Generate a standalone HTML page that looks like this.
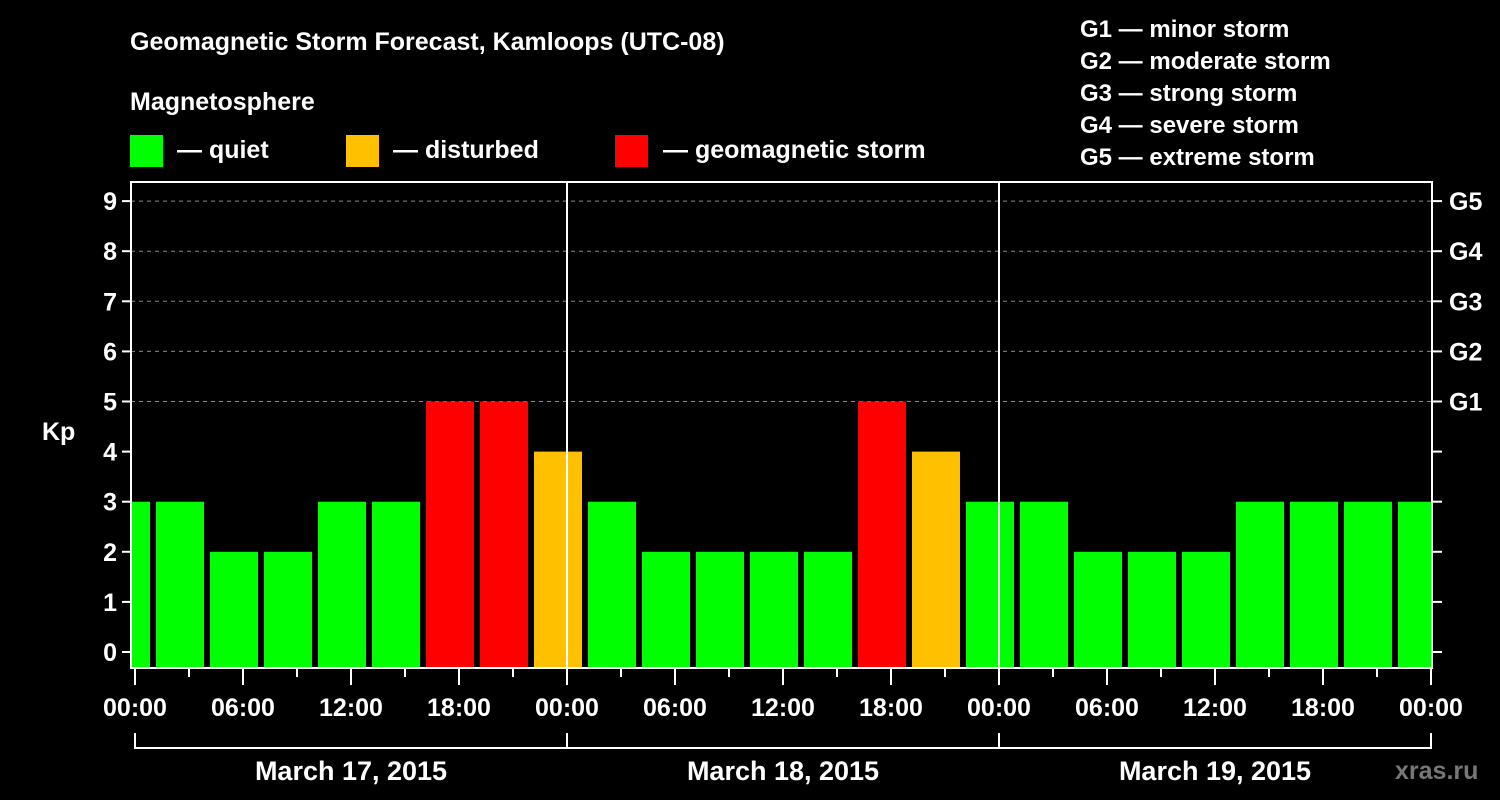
<!DOCTYPE html>
<html><head><meta charset="utf-8"><style>
html,body{margin:0;padding:0;background:#000;}
svg{display:block;font-family:"Liberation Sans",sans-serif;font-weight:bold;}
</style></head><body>
<svg id="chart" width="1500" height="800" viewBox="0 0 1500 800" xmlns="http://www.w3.org/2000/svg">
<rect width="1500" height="800" fill="#000"/>
<text x="130" y="50" fill="#fff" font-size="25">Geomagnetic Storm Forecast, Kamloops (UTC-08)</text>
<text x="130" y="110" fill="#fff" font-size="25">Magnetosphere</text>
<g><rect x="130" y="135" width="33" height="32" fill="#00ff00"/><text x="177" y="158" fill="#fff" font-size="25">— quiet</text></g>
<g><rect x="346" y="135" width="33" height="32" fill="#ffc000"/><text x="393" y="158" fill="#fff" font-size="25">— disturbed</text></g>
<g><rect x="615" y="135" width="33" height="32" fill="#ff0000"/><text x="663" y="158" fill="#fff" font-size="25">— geomagnetic storm</text></g>
<g fill="#fff" font-size="24">
<text x="1080" y="37">G1 — minor storm</text>
<text x="1080" y="69">G2 — moderate storm</text>
<text x="1080" y="101">G3 — strong storm</text>
<text x="1080" y="133">G4 — severe storm</text>
<text x="1080" y="165">G5 — extreme storm</text>
</g>
<text x="42" y="440" fill="#fff" font-size="25">Kp</text>
<g id="grid"></g>
<g id="bars"></g>
<g id="axes"></g>
<text x="1395" y="779" fill="#777" font-size="25">xras.ru</text>
</svg>
<script>
const kpValues = [3, 3,2,2,3,3,5,5,4, 3,2,2,2,2,5,4,3, 3,2,2,2,3,3,3,3];
const dayLabels = ["March 17, 2015","March 18, 2015","March 19, 2015"];
const timeLabels = ["00:00","06:00","12:00","18:00"];
const stormLabels = ["G1","G2","G3","G4","G5"];
const yTicks = [0,1,2,3,4,5,6,7,8,9];
const firstBlockHour = -2; // local hour of first 3h block start

const NS="http://www.w3.org/2000/svg";
const X0=135, PXH=18, L=131, R=1432, T=182, B=668;
const xh = h => X0 + h*PXH;
const yk = k => 652 - k*50.1;
function mk(tag, attrs, parent){const e=document.createElementNS(NS,tag);for(const k in attrs)e.setAttribute(k,attrs[k]);parent.appendChild(e);return e;}
const grid=document.getElementById('grid'), bars=document.getElementById('bars'), axes=document.getElementById('axes');

// dashed grid for G levels
stormLabels.forEach((g,i)=>{
  const y=yk(5+i);
  const ln=mk('line',{x1:L,x2:R,y1:y,y2:y,stroke:'#888','stroke-dasharray':'4,4','stroke-width':1},grid);
  
  
  const t=mk('text',{x:1449,y:y+9,fill:'#fff','font-size':25},axes);
  t.textContent=g;
  
  
});

// bars
kpValues.forEach((v,i)=>{
  const start=firstBlockHour+i*3;
  let x1=Math.max(xh(start)+3,L+1), x2=Math.min(xh(start+3)-3,R-1);
  const color=v>=5?'#ff0000':(v>=4?'#ffc000':'#00ff00');
  const r=mk('rect',{x:x1,y:yk(v),width:x2-x1,height:B-yk(v),fill:color},bars);
  
  
});

// day separators
for(let d=1;d<dayLabels.length;d++){
  const x=xh(d*24);
  const ln=mk('line',{x1:x,x2:x,y1:T,y2:B,stroke:'#fff','stroke-width':2},axes);
  
  
}
// frame
const fr=mk('rect',{x:L,y:T,width:R-L,height:B-T,fill:'none',stroke:'#fff','stroke-width':2},axes);



// y ticks
yTicks.forEach(k=>{
  const y=yk(k);
  const a=mk('line',{x1:122,x2:L,y1:y,y2:y,stroke:'#fff','stroke-width':2},axes);
  
  
  const b=mk('line',{x1:R,x2:1442,y1:y,y2:y,stroke:'#fff','stroke-width':2},axes);
  
  
  const t=mk('text',{x:117,y:y+9,fill:'#fff','font-size':25,'text-anchor':'end'},axes);
  t.textContent=k;
  
  
});

// x ticks
const totalH=dayLabels.length*24;
for(let h=0;h<=totalH;h+=3){
  const x=xh(h), major=h%6===0;
  const tk=mk('line',{x1:x,x2:x,y1:B,y2:major?685:677,stroke:'#fff','stroke-width':2},axes);
  
  
  if(major){
    const t=mk('text',{x:x,y:716,fill:'#fff','font-size':25,'text-anchor':'middle'},axes);
    t.textContent=timeLabels[(h%24)/6];
    
    
  }
}
// day bracket
const br=mk('line',{x1:xh(0),x2:xh(totalH),y1:748,y2:748,stroke:'#fff','stroke-width':2},axes);


for(let d=0;d<=dayLabels.length;d++){
  const x=xh(d*24);
  const v=mk('line',{x1:x,x2:x,y1:733,y2:749,stroke:'#fff','stroke-width':2},axes);
  
  
}
dayLabels.forEach((lab,d)=>{
  const t=mk('text',{x:xh(d*24+12),y:780,fill:'#fff','font-size':27,'text-anchor':'middle'},axes);
  t.textContent=lab;
  
  
});
</script>
</body></html>
